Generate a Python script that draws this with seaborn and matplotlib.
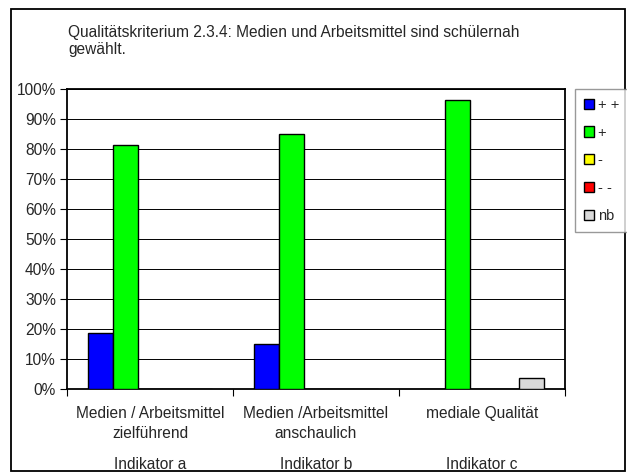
import pandas as pd
import matplotlib
matplotlib.use("Agg")
import matplotlib.pyplot as plt
import matplotlib.patches as mpatches
from matplotlib.ticker import PercentFormatter, FixedLocator
import seaborn as sns

# chart data
categories = ["Medien / Arbeitsmittel\nzielführend", "Medien /Arbeitsmittel\nanschaulich", "mediale Qualität"]
indicators = ["Indikator a", "Indikator b", "Indikator c"]
ratings = ["+ +", "+", "-", "- -", "nb"]
vals_pp = [18.6, 15.0, 0.0]
vals_p = [81.4, 85.0, 96.3]
vals_m = [0.0, 0.0, 0.0]
vals_mm = [0.0, 0.0, 0.0]
vals_nb = [0.0, 0.0, 3.7]
colors = ["#0000FF", "#00FF00", "#FFFF00", "#FF0000", "#D9D9D9"]

rows = []
for r, vals in zip(ratings, [vals_pp, vals_p, vals_m, vals_mm, vals_nb]):
    for c, v in zip(categories, vals):
        rows.append({"Kategorie": c, "Bewertung": r, "Wert": v})
df = pd.DataFrame(rows)

sns.set_style("white")
plt.rcParams["font.family"] = ["Liberation Sans", "DejaVu Sans"]
fs = 11.2

fig = plt.figure(figsize=(6.27, 4.73), dpi=100)
ax = fig.add_axes([67 / 627, 1 - 389 / 473, (565 - 67) / 627, 300 / 473])

sns.barplot(data=df, x="Kategorie", y="Wert", hue="Bewertung", hue_order=ratings,
            order=categories, palette=colors, saturation=1, width=0.75, gap=0,
            edgecolor="black", linewidth=1.0, ax=ax, legend=False, zorder=3)

ax.set_ylim(0, 100)
ax.set_xlim(-0.5, 2.5)
ax.set_yticks(range(0, 101, 10))
ax.yaxis.set_major_formatter(PercentFormatter(decimals=0))
ax.yaxis.grid(True, color="black", linewidth=0.7, zorder=0)
ax.set_axisbelow(True)
ax.set_xlabel("")
ax.set_ylabel("")
for s in ax.spines.values():
    s.set_color("black")
    s.set_linewidth(1.3)

ax.tick_params(axis="y", direction="out", length=5, width=0.8, color="black",
               labelsize=fs, pad=3, left=True)
ax.tick_params(axis="x", which="major", length=0, pad=12.5, labelsize=fs)
ax.xaxis.set_minor_locator(FixedLocator([-0.5, 0.5, 1.5, 2.5]))
ax.tick_params(axis="x", which="minor", direction="out", length=5, width=0.8,
               color="black", bottom=True)
for lbl in ax.get_xticklabels():
    lbl.set_linespacing(1.4)

for i, ind in enumerate(indicators):
    ax.text(i, -0.253, ind, transform=ax.get_xaxis_transform(),
            ha="center", va="center", fontsize=fs)

# title
fig.text(68 / 627, 1 - 25 / 473,
         "Qualitätskriterium 2.3.4: Medien und Arbeitsmittel sind schülernah\ngewählt.",
         ha="left", va="top", fontsize=fs, linespacing=1.2)

# legend
handles = [mpatches.Patch(facecolor=c, edgecolor="black", linewidth=1.0) for c in colors]
leg = fig.legend(handles, ratings, loc="upper left",
                 bbox_to_anchor=(575 / 627, 1 - 89 / 473), fontsize=10.5,
                 frameon=True, fancybox=False, borderaxespad=0,
                 handlelength=0.7, handleheight=0.7, handletextpad=0.25,
                 labelspacing=0.95, borderpad=0.6)
leg.get_frame().set_edgecolor("#808080")
leg.get_frame().set_linewidth(1.0)

# outer chart border
fig.patches.append(mpatches.Rectangle((11 / 627, 2 / 473), 614 / 627, 462 / 473,
                                      transform=fig.transFigure, fill=False,
                                      edgecolor="black", linewidth=1.3))

fig.savefig("out.png", dpi=100)
